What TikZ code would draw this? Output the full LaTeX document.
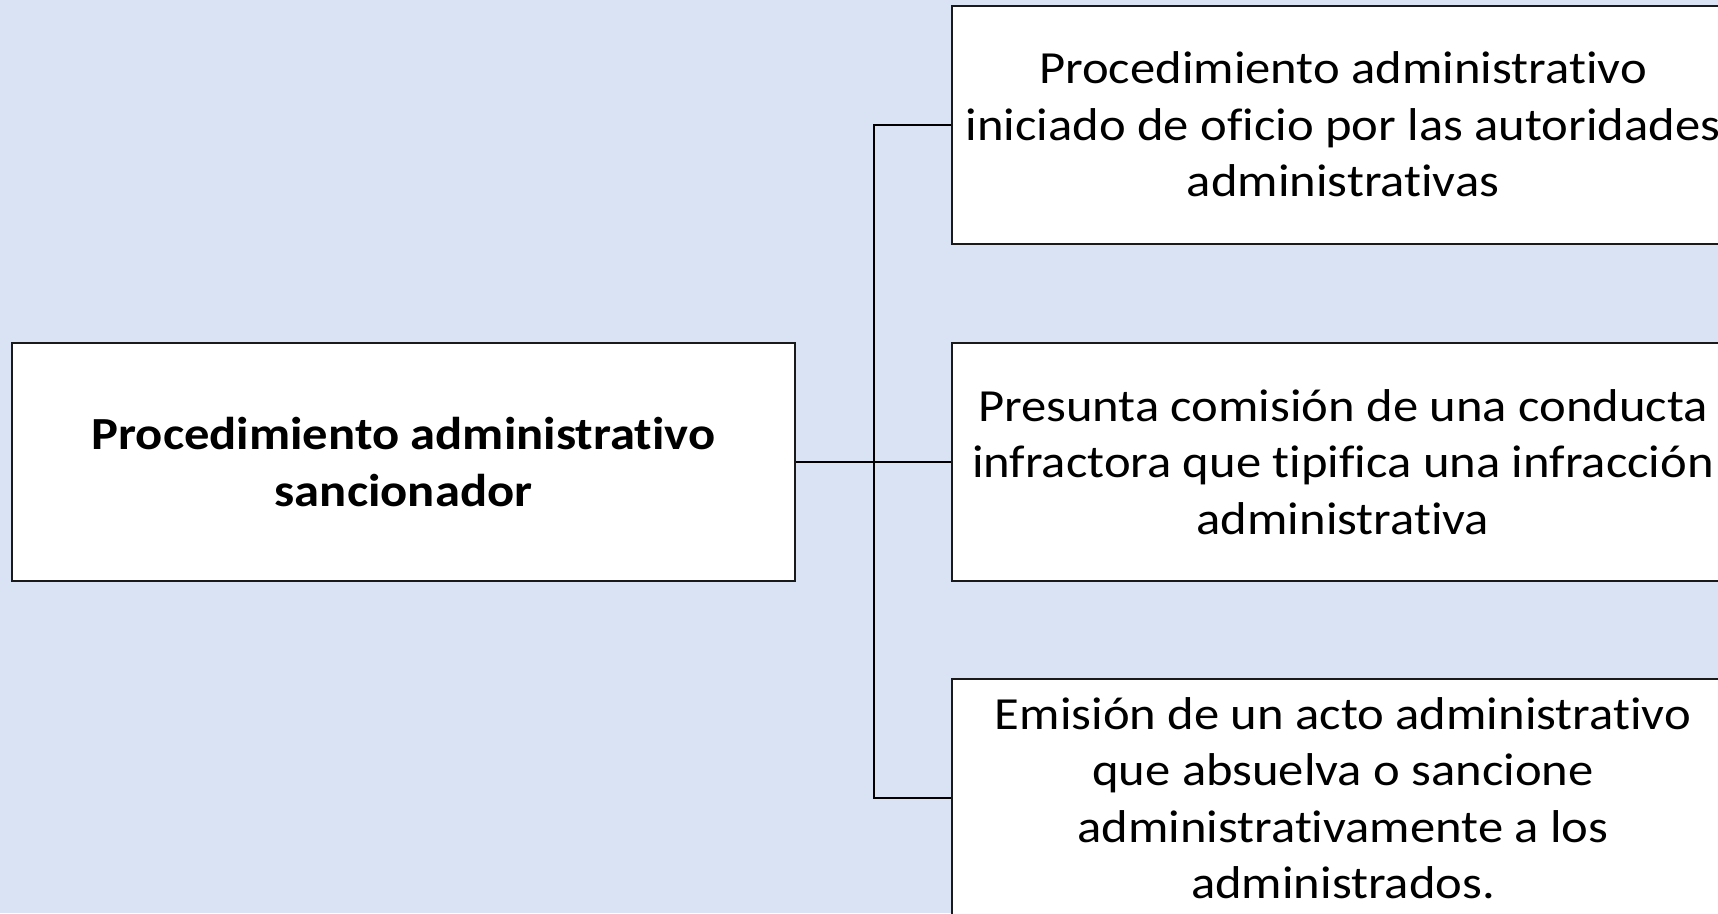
\documentclass[tikz,border=0pt]{standalone}
\usepackage{fontspec}
\setmainfont{Carlito}[FakeStretch=1.1,Ligatures=NoCommon]
\definecolor{bgblue}{HTML}{DAE3F3}
\definecolor{edge}{HTML}{1A1A1A}
\begin{document}
\begin{tikzpicture}[x=1pt,y=-1pt,
  box/.style={draw=edge,line width=2pt,fill=white,minimum width=782pt,minimum height=238pt,
    inner sep=0pt,align=center,font=\fontsize{46}{56.4}\selectfont},
  link/.style={draw=black,line width=2pt}]
\useasboundingbox (0,0) rectangle (1718,913);
\clip (0,0) rectangle (1718,913);
\fill[bgblue] (0,0) rectangle (1718,913);
\node[box,minimum width=783pt,font=\fontsize{46}{56.4}\selectfont\bfseries] (L) at (403.5,462) {Procedimiento administrativo\\sancionador};
\node[box] (R1) at (1343,124.5) {Procedimiento administrativo\\iniciado de oficio por las autoridades\\administrativas};
\node[box] (R2) at (1343,462) {Presunta comisión de una conducta\\infractora que tipifica una infracción\\administrativa};
\node[box] (R3) at (1343,798) {Emisión de un acto administrativo\\que absuelva o sancione\\administrativamente a los\\administrados.};
\coordinate (j) at (874,462);
\draw[link] (L.east) -- (R2.west);
\draw[link] (R1.west) -| (j) |- (R3.west);
\end{tikzpicture}
\end{document}
